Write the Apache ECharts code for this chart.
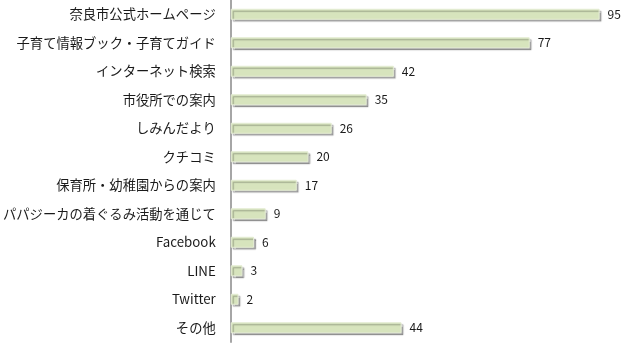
<!DOCTYPE html>
<html>
<head>
<meta charset="utf-8">
<script src="https://cdn.jsdelivr.net/npm/echarts@6/dist/echarts.min.js"></script>
<style>
  html, body { margin: 0; padding: 0; background: #fff; }
  #chart { width: 622px; height: 345px; }
</style>
</head>
<body>
<div id="chart"></div>
<script>
// Information sources, listed top to bottom
const categories = [
  '奈良市公式ホームページ',
  '子育て情報ブック・子育てガイド',
  'インターネット検索',
  '市役所での案内',
  'しみんだより',
  'クチコミ',
  '保育所・幼稚園からの案内',
  'パパジーカの着ぐるみ活動を通じて',
  'Facebook',
  'LINE',
  'Twitter',
  'その他'
];
const counts = [95, 77, 42, 35, 26, 20, 17, 9, 6, 3, 2, 44];

const chart = echarts.init(document.getElementById('chart'), null, { renderer: 'canvas' });
const font = '"Noto Sans CJK JP", "Noto Sans", sans-serif';

chart.setOption({
  animation: false,
  grid: { left: 229, top: 0, width: 390, height: 342, containLabel: false },
  xAxis: {
    type: 'value',
    min: 0,
    max: 100,
    show: false
  },
  yAxis: {
    type: 'category',
    data: categories,
    inverse: true,
    axisLine: { show: true, lineStyle: { color: '#a6a6a6', width: 2 } },
    axisTick: { show: false },
    axisLabel: {
      margin: 15,
      color: '#1a1a1a',
      fontSize: 13.3,
      fontFamily: font,
      padding: [0, 0, 2, 0]
    }
  },
  series: [{
    type: 'bar',
    data: counts,
    barWidth: 11,
    itemStyle: {
      color: '#d7e4bd',
      borderColor: '#e4ecd3',
      borderWidth: 1,
      shadowColor: 'rgba(0,0,0,0.3)',
      shadowBlur: 1,
      shadowOffsetX: 2,
      shadowOffsetY: 2
    },
    label: {
      show: true,
      position: 'right',
      distance: 8,
      color: '#1a1a1a',
      fontSize: 12,
      fontFamily: font
    }
  }]
});
</script>
</body>
</html>
